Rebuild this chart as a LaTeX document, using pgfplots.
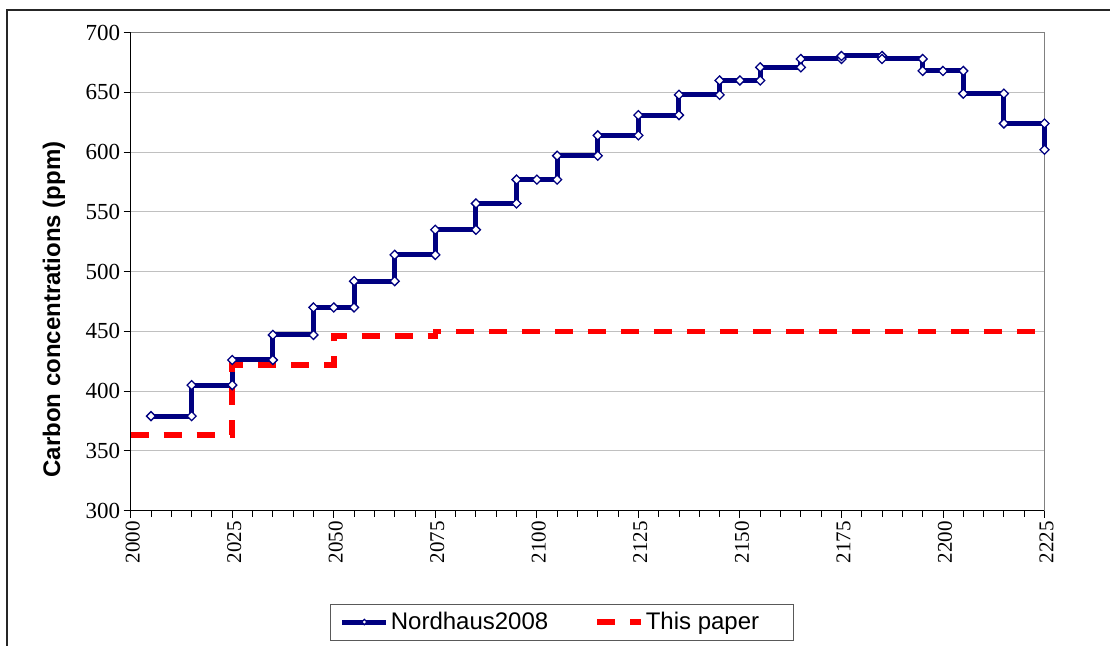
\documentclass[border=0pt]{standalone}
\usepackage{fontspec}
\setmainfont{Liberation Serif}
\newfontfamily\arialf{Liberation Sans}
\usepackage{pgfplots}
\pgfplotsset{compat=1.18}
\definecolor{navyc}{RGB}{0,0,128}
\definecolor{gridc}{RGB}{192,192,192}
\begin{document}
\begin{tikzpicture}
\useasboundingbox (0,0) rectangle (1110bp,646bp);
\draw[line width=1.2bp, black!85] (7bp,-10bp) -- (7bp,636bp) -- (1120bp,636bp);
\begin{axis}[
  at={(130.7bp,135.5bp)}, anchor=south west,
  scale only axis, width=913.8bp, height=477.8bp,
  xmin=2000, xmax=2225, ymin=300, ymax=700,
  axis lines*=left,
  axis line style={black, line width=1bp},
  xtick={2000,2025,...,2225},
  minor xtick={2000,2005,...,2225},
  ytick={300,350,...,700},
  tick align=outside,
  major tick length=7bp, minor tick length=6bp,
  tick style={black, line width=0.9bp},
  ymajorgrids, major grid style={gridc, line width=1bp},
  /pgf/number format/assume math mode=true,
  xticklabel style={font=\fontsize{21bp}{25bp}\selectfont, rotate=90, anchor=east, yshift=-2bp, /pgf/number format/1000 sep={}},
  yticklabel style={font=\fontsize{23bp}{27bp}\selectfont, /pgf/number format/1000 sep={}},
  ylabel={Carbon concentrations (ppm)},
  every axis y label/.style={at={(axis description cs:-0.0839,0.4207)}, rotate=90, anchor=center, font=\arialf\bfseries\fontsize{24bp}{28bp}\selectfont},
  legend columns=2,
  legend style={at={(axis description cs:0.472,-0.2334)}, anchor=center, draw=black!65, line width=0.8bp, inner xsep=9bp, inner ysep=6.5bp, font=\arialf\fontsize{24bp}{28bp}\selectfont, /tikz/every even column/.append style={column sep=44bp}},
  legend image code/.code={\draw[mark repeat=2,mark phase=2,#1] plot coordinates {(0bp,0bp) (22bp,0bp) (44bp,0bp)};},
  clip=false,
]
\draw[color=gray, line width=1bp] (rel axis cs:0,1) -- (rel axis cs:1,1) -- (rel axis cs:1,0);
\addplot[navyc, line width=5bp, mark=square*, mark size=3.2bp,
  mark options={rotate=45, fill=white, draw=navyc, line width=1.3bp, solid},
  legend image post style={mark size=1.9bp}] coordinates {
(2005,379) (2015,379) (2015,405) (2025,405) (2025,426) (2035,426)
(2035,447) (2045,447) (2045,470) (2050,470) (2055,470) (2055,492)
(2065,492) (2065,514) (2075,514) (2075,535) (2085,535) (2085,557)
(2095,557) (2095,577) (2100,577) (2105,577) (2105,597) (2115,597)
(2115,614) (2125,614) (2125,631) (2135,631) (2135,648) (2145,648)
(2145,660) (2150,660) (2155,660) (2155,671) (2165,671) (2165,678)
(2175,678) (2175,680.5) (2185,680.5) (2185,678) (2195,678) (2195,668)
(2200,668) (2205,668) (2205,649) (2215,649) (2215,624) (2225,624)
(2225,602)
};
\addplot[red, line width=5.5bp, dash pattern=on 18bp off 15bp] coordinates {
(2000,363) (2025,363) (2025,422) (2050,422) (2050,446) (2075,446)
(2075,450) (2225,450)
};
\legend{Nordhaus2008, This paper\rule{23bp}{0pt}}
\end{axis}
\end{tikzpicture}
\end{document}
